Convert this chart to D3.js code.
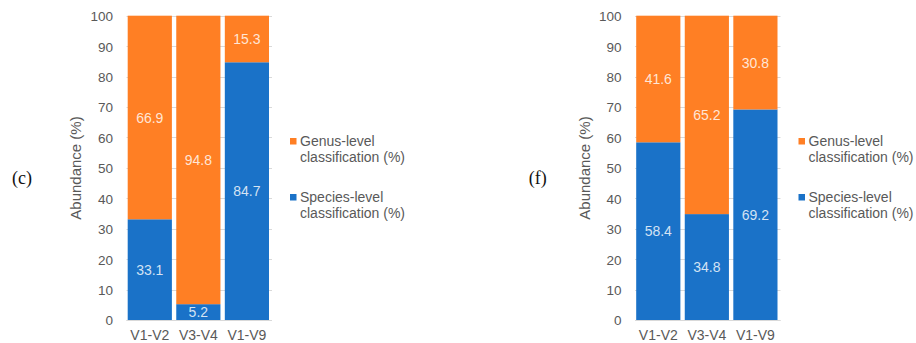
<!DOCTYPE html>
<html>
<head>
<meta charset="utf-8">
<script src="https://cdn.jsdelivr.net/npm/d3@7"></script>
<style>
  html, body { margin: 0; padding: 0; background: #fff; }
  svg { display: block; }
</style>
</head>
<body>
<svg id="chart" width="916" height="343"></svg>
<script>
// Sequencing regions compared in each panel
const regions = ["V1-V2", "V3-V4", "V1-V9"];

// Panel (c): species- and genus-level classification (%)
const speciesC = [33.1, 5.2, 84.7];
const genusC = [66.9, 94.8, 15.3];

// Panel (f): species- and genus-level classification (%)
const speciesF = [58.4, 34.8, 69.2];
const genusF = [41.6, 65.2, 30.8];

const yTicks = [0, 10, 20, 30, 40, 50, 60, 70, 80, 90, 100];
const seriesNames = ["Genus-level classification (%)", "Species-level classification (%)"];
const panelLabels = ["(c)", "(f)"];

const ORANGE = "#FF7F24";
const BLUE = "#1A72C8";
const TEXT = "#595959";
const GRID = "#D9D9D9";

const svg = d3.select("#chart");

const y = d3.scaleLinear().domain([0, 100]).range([320, 15.7]);

function drawPanel(offsetX, label, species, genus) {
  const g = svg.append("g").attr("transform", `translate(${offsetX},0)`);

  const x = d3.scaleBand().domain(regions).range([127.7, 269]).paddingInner(0.09).paddingOuter(0);

  // horizontal gridlines
  g.append("g").selectAll("line").data(yTicks).join("line")
    .attr("x1", 126.5).attr("x2", 272)
    .attr("y1", d => Math.round(y(d)) + 0.5).attr("y2", d => Math.round(y(d)) + 0.5)
    .attr("stroke", GRID).attr("stroke-width", 1);

  // y axis
  const yAxis = d3.axisLeft(y).tickValues(yTicks).tickSize(0).tickPadding(0);
  const ya = g.append("g").attr("transform", "translate(113,0)").call(yAxis);
  ya.select(".domain").remove();
  ya.selectAll("text").attr("fill", TEXT).attr("font-family", "Liberation Sans, Arial, sans-serif")
    .attr("font-size", 13.5).attr("dy", "0.36em");

  // x axis labels
  const xAxis = d3.axisBottom(x).tickSize(0).tickPadding(0);
  const xa = g.append("g").attr("transform", "translate(0,330)").call(xAxis);
  xa.select(".domain").remove();
  xa.selectAll("text").attr("fill", TEXT).attr("font-family", "Liberation Sans, Arial, sans-serif")
    .attr("font-size", 14).attr("dy", "0.71em");

  // stacked data
  const rows = regions.map((r, i) => ({ region: r, species: species[i], genus: genus[i] }));
  const stack = d3.stack().keys(["species", "genus"])(rows);
  const colors = { species: BLUE, genus: ORANGE };

  stack.forEach(layer => {
    g.append("g").selectAll("rect").data(layer).join("rect")
      .attr("x", d => x(d.data.region))
      .attr("width", x.bandwidth())
      .attr("y", d => y(d[1]))
      .attr("height", d => y(d[0]) - y(d[1]))
      .attr("fill", colors[layer.key]);

    g.append("g").selectAll("text").data(layer).join("text")
      .attr("x", d => x(d.data.region) + x.bandwidth() / 2)
      .attr("y", d => y((d[0] + d[1]) / 2))
      .attr("dy", "0.36em")
      .attr("text-anchor", "middle")
      .attr("font-family", "Liberation Sans, Arial, sans-serif")
      .attr("font-size", 14)
      .attr("fill", "#ffffff").attr("fill-opacity", 0.82)
      .text(d => d.data[layer.key].toFixed(1));
  });

  // baseline
  g.append("line").attr("x1", 126.5).attr("x2", 272)
    .attr("y1", y(0) + 0.5).attr("y2", y(0) + 0.5)
    .attr("stroke", GRID).attr("stroke-width", 1);

  // y axis title
  g.append("text")
    .attr("transform", `translate(81,168) rotate(-90)`)
    .attr("text-anchor", "middle")
    .attr("font-family", "Liberation Sans, Arial, sans-serif")
    .attr("font-size", 15)
    .attr("fill", TEXT)
    .text("Abundance (%)");

  // legend
  const legendItems = [
    { name: seriesNames[0], color: ORANGE, y: 138 },
    { name: seriesNames[1], color: BLUE, y: 194 }
  ];
  legendItems.forEach(item => {
    g.append("rect").attr("x", 290).attr("y", item.y).attr("width", 6.5).attr("height", 6.5).attr("fill", item.color);
    const words = item.name.split(" ");
    const t = g.append("text")
      .attr("font-family", "Liberation Sans, Arial, sans-serif")
      .attr("font-size", 14).attr("fill", TEXT);
    t.append("tspan").attr("x", 300).attr("y", item.y + 8).text(words[0]);
    t.append("tspan").attr("x", 300).attr("y", item.y + 24).text(words.slice(1).join(" "));
  });
}

drawPanel(0, panelLabels[0], speciesC, genusC);
drawPanel(508.5, panelLabels[1], speciesF, genusF);

// panel letters
svg.append("text").attr("x", 22).attr("y", 184).attr("text-anchor", "middle")
  .attr("font-family", "Liberation Serif, Times New Roman, serif").attr("font-size", 18).attr("fill", "#111")
  .text(panelLabels[0]);
svg.append("text").attr("x", 537.7).attr("y", 184).attr("text-anchor", "middle")
  .attr("font-family", "Liberation Serif, Times New Roman, serif").attr("font-size", 18).attr("fill", "#111")
  .text(panelLabels[1]);
</script>
</body>
</html>
